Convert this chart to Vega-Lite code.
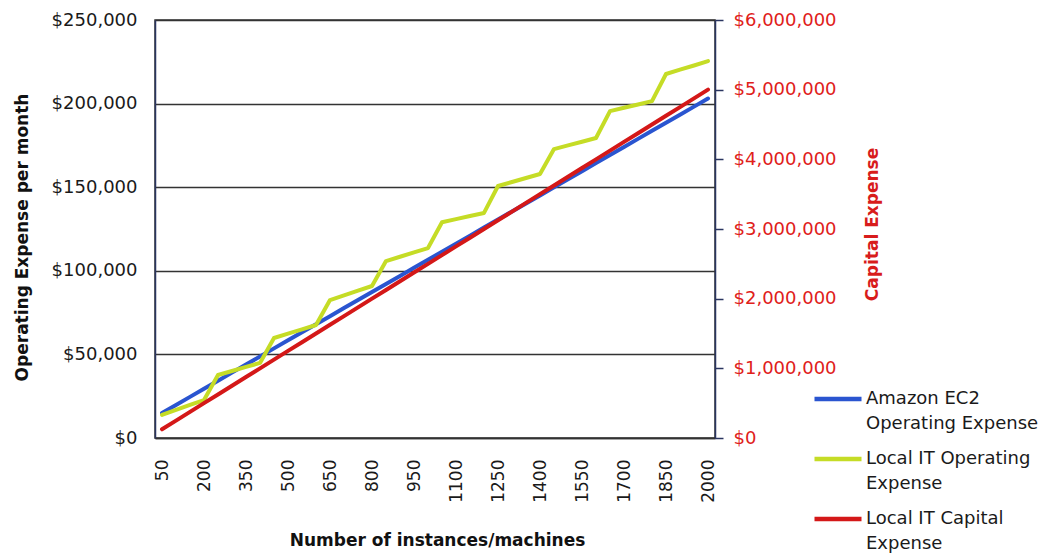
{
  "$schema": "https://vega.github.io/schema/vega-lite/v6.json",
  "width": 560,
  "height": 418,
  "autosize": {"type": "none"},
  "padding": {"left": 155, "top": 20, "right": 329, "bottom": 118},
  "background": "white",
  "config": {
    "font": "DejaVu Sans",
    "view": {"stroke": "#333333", "strokeWidth": 1.5},
    "axis": {"labelFont": "DejaVu Sans", "titleFont": "DejaVu Sans"},
    "legend": {"labelFont": "DejaVu Sans"}
  },
  "data": {
    "values": [
      {"n": 50, "ec2": 15000, "local_op": 13800, "local_cap": 125000},
      {"n": 100, "ec2": 19800, "local_op": 16800, "local_cap": 250000},
      {"n": 150, "ec2": 24600, "local_op": 19800, "local_cap": 375000},
      {"n": 200, "ec2": 29500, "local_op": 22700, "local_cap": 500000},
      {"n": 250, "ec2": 34300, "local_op": 37700, "local_cap": 625000},
      {"n": 300, "ec2": 39100, "local_op": 40100, "local_cap": 750000},
      {"n": 350, "ec2": 43900, "local_op": 42500, "local_cap": 875000},
      {"n": 400, "ec2": 48700, "local_op": 44900, "local_cap": 1000000},
      {"n": 450, "ec2": 53600, "local_op": 59800, "local_cap": 1125000},
      {"n": 500, "ec2": 58400, "local_op": 62400, "local_cap": 1250000},
      {"n": 550, "ec2": 63200, "local_op": 65000, "local_cap": 1375000},
      {"n": 600, "ec2": 68000, "local_op": 67600, "local_cap": 1500000},
      {"n": 650, "ec2": 72800, "local_op": 82500, "local_cap": 1625000},
      {"n": 700, "ec2": 77700, "local_op": 85300, "local_cap": 1750000},
      {"n": 750, "ec2": 82500, "local_op": 88100, "local_cap": 1875000},
      {"n": 800, "ec2": 87300, "local_op": 90900, "local_cap": 2000000},
      {"n": 850, "ec2": 92100, "local_op": 105800, "local_cap": 2125000},
      {"n": 900, "ec2": 96900, "local_op": 108400, "local_cap": 2250000},
      {"n": 950, "ec2": 101800, "local_op": 111000, "local_cap": 2375000},
      {"n": 1000, "ec2": 106600, "local_op": 113600, "local_cap": 2500000},
      {"n": 1050, "ec2": 111400, "local_op": 129000, "local_cap": 2625000},
      {"n": 1100, "ec2": 116200, "local_op": 130900, "local_cap": 2750000},
      {"n": 1150, "ec2": 121000, "local_op": 132800, "local_cap": 2875000},
      {"n": 1200, "ec2": 125900, "local_op": 134600, "local_cap": 3000000},
      {"n": 1250, "ec2": 130700, "local_op": 150700, "local_cap": 3125000},
      {"n": 1300, "ec2": 135500, "local_op": 153100, "local_cap": 3250000},
      {"n": 1350, "ec2": 140300, "local_op": 155500, "local_cap": 3375000},
      {"n": 1400, "ec2": 145100, "local_op": 157900, "local_cap": 3500000},
      {"n": 1450, "ec2": 150000, "local_op": 172800, "local_cap": 3625000},
      {"n": 1500, "ec2": 154800, "local_op": 175000, "local_cap": 3750000},
      {"n": 1550, "ec2": 159600, "local_op": 177200, "local_cap": 3875000},
      {"n": 1600, "ec2": 164400, "local_op": 179400, "local_cap": 4000000},
      {"n": 1650, "ec2": 169200, "local_op": 195500, "local_cap": 4125000},
      {"n": 1700, "ec2": 174100, "local_op": 197500, "local_cap": 4250000},
      {"n": 1750, "ec2": 178900, "local_op": 199500, "local_cap": 4375000},
      {"n": 1800, "ec2": 183700, "local_op": 201500, "local_cap": 4500000},
      {"n": 1850, "ec2": 188500, "local_op": 217700, "local_cap": 4625000},
      {"n": 1900, "ec2": 193300, "local_op": 220300, "local_cap": 4750000},
      {"n": 1950, "ec2": 198200, "local_op": 222800, "local_cap": 4875000},
      {"n": 2000, "ec2": 203000, "local_op": 225400, "local_cap": 5000000}
    ]
  },
  "transform": [
    {"fold": ["ec2", "local_op", "local_cap"], "as": ["series", "value"]}
  ],
  "encoding": {
    "x": {
      "field": "n",
      "type": "ordinal",
      "sort": "ascending",
      "scale": {"type": "point", "padding": 0.5},
      "axis": {
        "title": "Number of instances/machines",
        "titleFontSize": 17,
        "titleFontWeight": "bold",
        "titleColor": "#111111",
        "titleX": 282,
        "titleY": 102,
        "titleAlign": "center",
        "titleBaseline": "middle",
        "values": [50, 200, 350, 500, 650, 800, 950, 1100, 1250, 1400, 1550, 1700, 1850, 2000],
        "labelAngle": 270,
        "labelFontSize": 17,
        "labelColor": "#1a1a1a",
        "labelPadding": 21,
        "ticks": false,
        "domainColor": "#333333",
        "domainWidth": 1.5,
        "grid": false
      }
    },
    "color": {
      "field": "series",
      "type": "nominal",
      "scale": {
        "domain": ["ec2", "local_op", "local_cap"],
        "range": ["#2a55d0", "#c5dc26", "#d41818"]
      },
      "legend": {
        "orient": "none",
        "legendX": 657,
        "legendY": 353,
        "title": null,
        "symbolType": "stroke",
        "symbolSize": 2209,
        "symbolStrokeWidth": 4.5,
        "labelFontSize": 18,
        "labelColor": "#1a1a1a",
        "labelLimit": 400,
        "labelOffset": 2,
        "rowPadding": 0,
        "labelExpr": "datum.label == 'ec2' ? ['Amazon EC2', 'Operating Expense'] : datum.label == 'local_op' ? ['Local IT Operating', 'Expense'] : ['Local IT Capital', 'Expense']",
        "encoding": {
          "labels": {"lineHeight": {"value": 25}}
        }
      }
    }
  },
  "layer": [
    {
      "transform": [{"filter": "datum.series != 'local_cap'"}],
      "mark": {"type": "line", "strokeWidth": 4, "strokeCap": "round", "strokeJoin": "round"},
      "encoding": {
        "y": {
          "field": "value",
          "type": "quantitative",
          "scale": {"domain": [0, 250000], "nice": false},
          "axis": {
            "title": "Operating Expense per month",
            "titleFontSize": 17,
            "titleFontWeight": "bold",
            "titleColor": "#111111",
            "titleAngle": 270,
            "titleX": -133,
            "titleY": 217,
            "titleAlign": "center",
            "titleBaseline": "middle",
            "values": [0, 50000, 100000, 150000, 200000, 250000],
            "format": "$,.0f",
            "labelFontSize": 18,
            "labelColor": "#1a1a1a",
            "labelPadding": 18,
            "ticks": false,
            "grid": true,
            "gridColor": "#333333",
            "gridWidth": 1.4,
            "domainColor": "#2a3560",
            "domainWidth": 1.5
          }
        }
      }
    },
    {
      "transform": [{"filter": "datum.series == 'local_cap'"}],
      "mark": {"type": "line", "strokeWidth": 4, "strokeCap": "round", "strokeJoin": "round"},
      "encoding": {
        "y": {
          "field": "value",
          "type": "quantitative",
          "scale": {"domain": [0, 6000000], "nice": false},
          "axis": {
            "orient": "right",
            "title": "Capital Expense",
            "titleFontSize": 17,
            "titleFontWeight": "bold",
            "titleColor": "#d81c1c",
            "titleAngle": 270,
            "titleX": 157,
            "titleY": 204,
            "titleAlign": "center",
            "titleBaseline": "middle",
            "values": [0, 1000000, 2000000, 3000000, 4000000, 5000000, 6000000],
            "format": "$,.0f",
            "labelFontSize": 18,
            "labelColor": "#e0201a",
            "labelPadding": 10,
            "ticks": true,
            "tickSize": 8,
            "tickColor": "#2a3560",
            "tickWidth": 1.5,
            "grid": false,
            "domainColor": "#2a3560",
            "domainWidth": 1.5
          }
        }
      }
    }
  ],
  "resolve": {"scale": {"y": "independent"}}
}
